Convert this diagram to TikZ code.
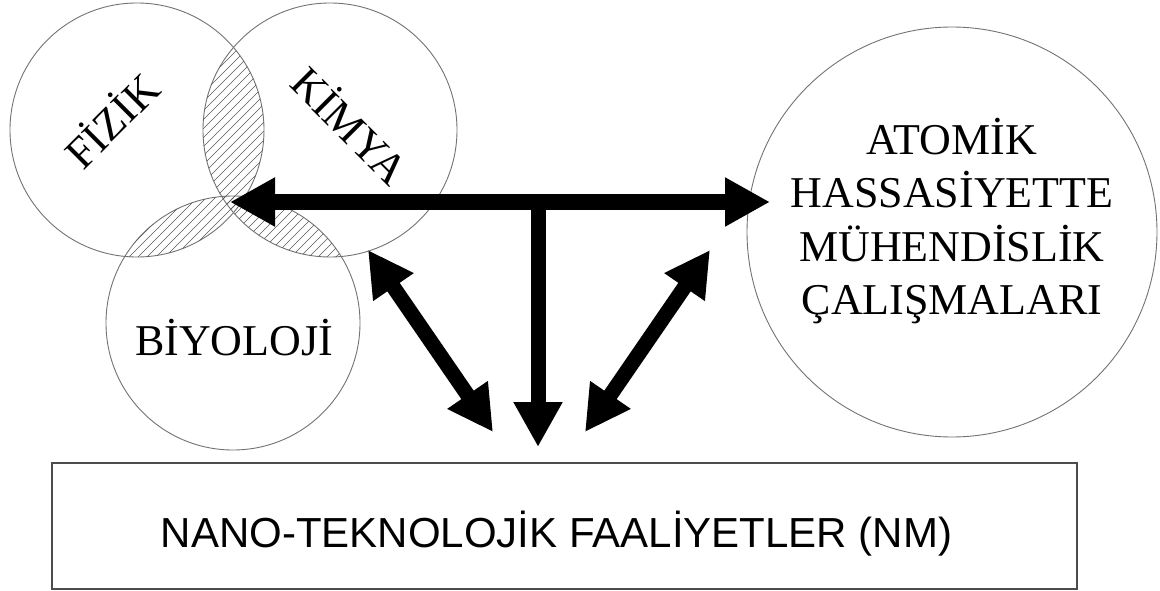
\documentclass[tikz,border=0pt]{standalone}
\usepackage{fontspec}
\setmainfont{Liberation Serif}
\newfontfamily\arialfont{Liberation Sans}
\usetikzlibrary{arrows.meta}
\begin{document}
\begin{tikzpicture}[x=1pt,y=-1pt,
  ring/.style={circle,draw=black!55,line width=0.9pt,inner sep=0pt,minimum size=#1},
  hatchline/.style={draw=black!65,line width=0.6pt},
  serif/.style={inner sep=0pt,font=\fontsize{44}{53.3}\selectfont},
  bigarrow/.style={line width=15pt,draw=black},
  tipA/.style={-{Triangle[length=45pt,width=46pt]}},
  tipB/.style={{Triangle[length=45pt,width=46pt]}-{Triangle[length=45pt,width=46pt]}}
]
\useasboundingbox (0,0) rectangle (1160,591);
\fill[white] (0,0) rectangle (1160,591);

% circles
\node[ring=254pt] (fizik) at (137,130) {};
\node[ring=254pt] (kimya) at (330,130) {};
\node[ring=254pt] (biyo) at (233,323) {};
\node[ring=410pt] (atom) at (952,232) {};

% hatching of the overlaps
\begin{scope}
  \clip (fizik.center) circle (127pt);
  \clip (kimya.center) circle (127pt);
  \foreach \k in {-380,-371,...,200} \draw[hatchline] (\k,460) -- ++(460,-460);
\end{scope}
\begin{scope}
  \clip (fizik.center) circle (127pt);
  \clip (biyo.center) circle (127pt);
  \foreach \k in {-380,-371,...,200} \draw[hatchline] (\k,460) -- ++(460,-460);
\end{scope}
\begin{scope}
  \clip (kimya.center) circle (127pt);
  \clip (biyo.center) circle (127pt);
  \foreach \k in {-380,-371,...,200} \draw[hatchline] (\k,460) -- ++(460,-460);
\end{scope}

% labels
\node[serif,rotate=45] (tfizik) at (110,119) {FİZİK};
\node[serif,rotate=-45] (tkimya) at (352,124) {KİMYA};
\node[serif,anchor=base] (tbiyo) at (234,355) {BİYOLOJİ};
\node[serif,align=center] (tatom) at (952,221) {ATOMİK\\HASSASİYETTE\\MÜHENDİSLİK\\ÇALIŞMALARI};

% box
\node[draw=black!70,line width=1.2pt,minimum width=1025pt,minimum height=126pt,inner sep=0pt] (nmbox) at (564.5,526) {};
\node[inner sep=0pt,anchor=base,font=\arialfont\fontsize{42}{50}\selectfont] (nmtext) at (556.5,547) {NANO-TEKNOLOJİK FAALİYETLER (NM)};

% arrow end points
\coordinate (hl) at (230,202);
\coordinate (hr) at (770,202);
\coordinate (hm) at (538,202);
\coordinate (vb) at (538,447);
\coordinate (dlu) at (368,250);
\coordinate (dlb) at (493,432);
\coordinate (dru) at (710,250);
\coordinate (drb) at (585,432);

\draw[bigarrow,tipB] (hl) -- (hr);
\draw[bigarrow,tipA] (hm) -- (vb);
\draw[bigarrow,tipB] (dlu) -- (dlb);
\draw[bigarrow,tipB] (dru) -- (drb);
\end{tikzpicture}
\end{document}
